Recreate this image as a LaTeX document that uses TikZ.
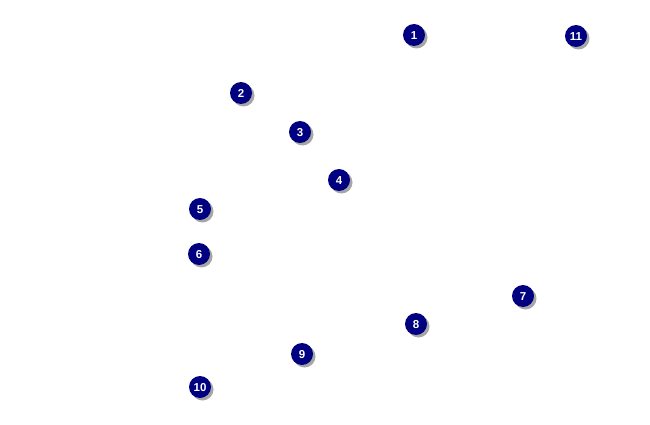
\documentclass[tikz,border=0pt]{standalone}
\usepackage{fontspec}
\setmainfont{Liberation Sans}
\usetikzlibrary{shadows}
\tikzset{
  num/.style={circle, fill={rgb,255:red,0;green,0;blue,128}, minimum size=22pt, inner sep=0pt,
    text=white, font=\bfseries\fontsize{11.5}{11.5}\selectfont,
    text height=8.2pt, text depth=0pt,
    drop shadow={shadow xshift=2.5pt, shadow yshift=-2.5pt, fill=gray!70, opacity=1}}
}
\begin{document}
\begin{tikzpicture}[x=1pt,y=-1pt]
\useasboundingbox[fill=white] (0,0) rectangle (650,425);
\node[num] (n1) at (414,35) {1};
\node[num] (n11) at (576,36) {11};
\node[num] (n2) at (241,93) {2};
\node[num] (n3) at (300,132) {3};
\node[num] (n4) at (339,180) {4};
\node[num] (n5) at (200,209) {5};
\node[num] (n6) at (199,254) {6};
\node[num] (n7) at (523,296) {7};
\node[num] (n8) at (416,324) {8};
\node[num] (n9) at (302,354) {9};
\node[num] (n10) at (200,387) {10};
\end{tikzpicture}
\end{document}
